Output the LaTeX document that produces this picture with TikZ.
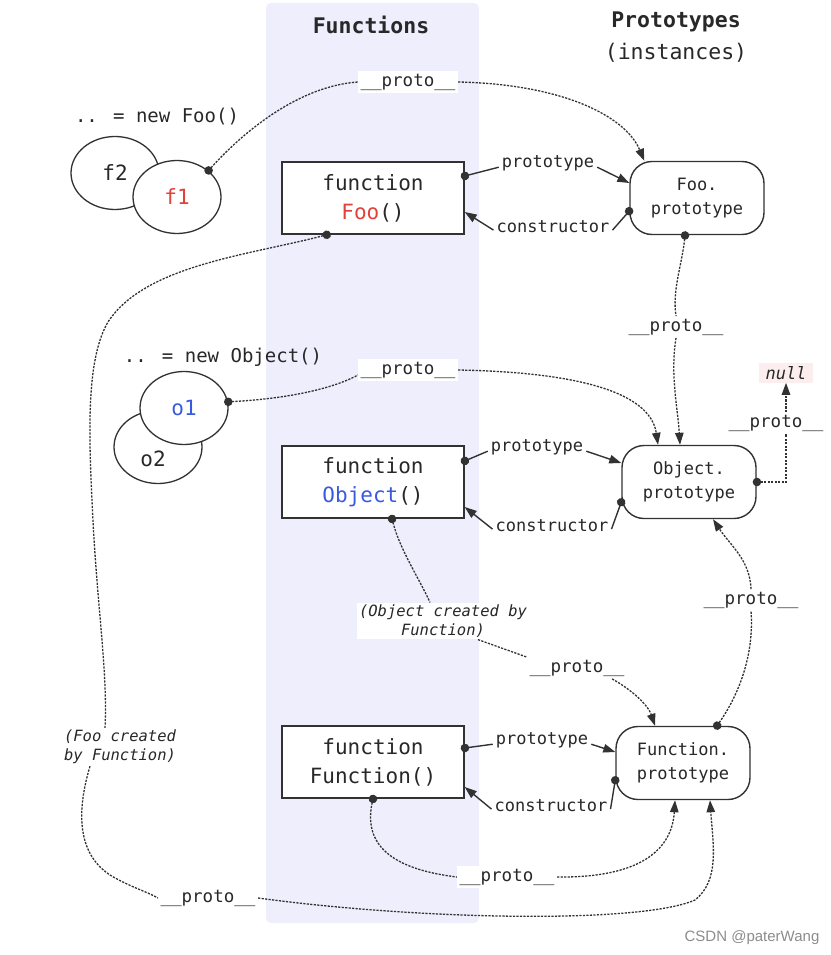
\documentclass[tikz,border=0pt]{standalone}
\usepackage{fontspec}
\setmainfont{DejaVu Sans Mono}
\newfontfamily\wmfont{Liberation Sans}
\usetikzlibrary{arrows.meta,shapes.geometric,calc}
\definecolor{bandc}{RGB}{238,238,252}
\definecolor{lc}{RGB}{50,50,50}
\definecolor{tc}{RGB}{40,40,40}
\definecolor{redc}{RGB}{226,64,58}
\definecolor{bluec}{RGB}{58,90,222}
\definecolor{nullbg}{RGB}{252,238,238}
\newcommand{\fs}[2]{\fontsize{#1}{#2}\selectfont}
\begin{document}
\begin{tikzpicture}[x=1pt,y=-1pt,
 fnbox/.style={draw=lc, line width=1.4pt, fill=white, minimum width=182pt, minimum height=72pt, align=center, font=\fs{21}{29}, text=tc},
 pbox/.style={draw=lc, line width=1.4pt, fill=white, rounded corners=22pt, minimum width=134pt, minimum height=73pt, align=center, font=\fs{17}{23.5}, text=tc},
 inst/.style={draw=lc, line width=1.3pt, fill=white, ellipse, minimum width=88pt, minimum height=73pt, inner sep=0pt, font=\fs{21}{25}, text=tc},
 plabel/.style={fill=white, inner sep=2.5pt, font=\fs{17.5}{21}, text=tc},
 elabel/.style={font=\fs{17}{21}, text=tc, inner sep=3pt},
 note/.style={fill=white, inner sep=2pt, align=center, font=\fs{15.5}{19}\itshape, text=tc},
 hdr/.style={font=\fs{21.5}{26}\bfseries, text=tc},
 pline/.style={draw=lc, line width=1.3pt, dash pattern=on 2.2pt off 1.3pt},
 sline/.style={draw=lc, line width=1.4pt},
 dotS/.style={{Circle[length=8.5pt]}-, shorten <=-4pt},
 arrE/.style={-{Triangle[length=12pt,width=8.5pt]}},
]
\useasboundingbox (0,0) rectangle (830,955);
\fill[bandc, rounded corners=5pt] (266,3) rectangle (479,923);

% headers
\node[hdr] (hfun) at (371,25) {Functions};
\node[hdr] (hproto) at (676,22) {Prototypes};
\node[font=\fs{21.5}{26}, text=tc] (hinst) at (676,53) {(instances)};

% instances
\node[font=\fs{19}{23}, text=tc] (newfoo) at (157,117) {.. = new Foo()};
\node[inst] (f2) at (115,173) {f2};
\node[inst, text=redc] (f1) at (177,197) {f1};
\node[font=\fs{19}{23}, text=tc] (newobj) at (223,357) {.. = new Object()};
\node[inst] (o2) at (158,447) {};
\node[text=tc, font=\fs{21}{25}] (o2t) at (153,459) {o2};
\node[inst, text=bluec] (o1) at (184,408) {o1};

% functions
\node[fnbox] (foo) at (373,198) {function\\\textcolor{redc}{Foo}()};
\node[fnbox] (obj) at (373,482) {function\\\textcolor{bluec}{Object}()};
\node[fnbox] (fun) at (373,762) {function\\Function()};

% prototypes
\node[pbox] (fooP) at (697,198) {Foo.\\prototype};
\node[pbox] (objP) at (689,482) {Object.\\prototype};
\node[pbox] (funP) at (683,763) {Function.\\prototype};

% prototype / constructor labels
\node[elabel] (lpF) at (548,163) {prototype};
\node[elabel] (lcF) at (553,227) {constructor};
\node[elabel] (lpO) at (537,447) {prototype};
\node[elabel] (lcO) at (552,526) {constructor};
\node[elabel] (lpU) at (542,740) {prototype};
\node[elabel] (lcU) at (551,806) {constructor};

% __proto__ labels
\node[plabel] (pTop) at (408,82) {\_\_proto\_\_};
\node[plabel] (pFooP) at (676,327) {\_\_proto\_\_};
\node[plabel] (pO1) at (408,370) {\_\_proto\_\_};
\node[plabel] (pNull) at (776,423) {\_\_proto\_\_};
\node[plabel] (pObjFun) at (577,668) {\_\_proto\_\_};
\node[plabel] (pFunObjP) at (751,600) {\_\_proto\_\_};
\node[plabel] (pFun) at (507,877) {\_\_proto\_\_};
\node[plabel] (pFoo) at (208,898) {\_\_proto\_\_};

% notes
\node[note] (aFoo) at (120,747) {(Foo created\\by Function)};
\node[note] (aObj) at (443,621) {(Object created by\\Function)};
\node[fill=nullbg, inner xsep=7pt, inner ysep=3pt, font=\fs{17}{21}\itshape, text=tc] (null) at (786,373) {null};

% watermark
\node[font=\wmfont\fs{15}{18}, text=black!45] (wm) at (752,938) {CSDN @paterWang};

% prototype / constructor connectors
\draw[sline,dotS] ([yshift=22pt]foo.east) -- (lpF.base west);
\draw[sline,arrE] (lpF.base east) -- ([yshift=15pt]fooP.west);
\draw[sline,dotS] ([yshift=-13pt]fooP.west) -- (lcF.mid east);
\draw[sline,arrE] (lcF.mid west) -- ([yshift=-14pt]foo.east);

\draw[sline,dotS] ([yshift=21pt]obj.east) -- (lpO.base west);
\draw[sline,arrE] (lpO.base east) -- ([yshift=19pt]objP.west);
\draw[sline,dotS] ([yshift=-20pt]objP.west) -- (lcO.mid east);
\draw[sline,arrE] (lcO.mid west) -- ([yshift=-25pt]obj.east);

\draw[sline,dotS] ([yshift=14pt]fun.east) -- (lpU.base west);
\draw[sline,arrE] (lpU.base east) -- ([yshift=11pt]funP.west);
\draw[sline,dotS] ([yshift=-17pt]funP.west) -- (lcU.mid east);
\draw[sline,arrE] (lcU.mid west) -- ([yshift=-25pt]fun.east);

% __proto__ connectors
\draw[pline,dotS] (f1.40) .. controls (245,130) and (300,86) .. (pTop.west);
\draw[pline,arrE] (pTop.east) .. controls (560,84) and (625,115) .. ([xshift=15pt]fooP.north west);

\draw[pline,dotS] ([xshift=-46pt]foo.south) .. controls (250,255) and (145,265) .. (108,322) .. controls (88,356) and (88,420) .. (92,500) .. controls (96,600) and (108,670) .. ([xshift=-15pt]aFoo.north);
\draw[pline] ([xshift=-30pt]aFoo.south) .. controls (80,800) and (72,850) .. (110,875) .. controls (130,887) and (148,892) .. (pFoo.west);
\draw[pline,arrE] (pFoo.east) .. controls (420,920) and (640,924) .. (695,900) .. controls (720,880) and (713,845) .. ([xshift=27pt]funP.south);

\draw[pline,dotS] ([xshift=-12pt]fooP.south) .. controls (682,265) and (672,290) .. (pFooP.north);
\draw[pline,arrE] (pFooP.south) .. controls (670,375) and (678,410) .. ([xshift=-9pt]objP.north);

\draw[pline,dotS] (o1.8) .. controls (300,398) and (340,385) .. ([yshift=-5pt]pO1.west);
\draw[pline,arrE] (pO1.east) .. controls (570,372) and (650,390) .. ([xshift=-31pt]objP.north);

\draw[pline,dotS] (objP.east) -| ([xshift=10pt]pNull.south);
\draw[pline,arrE] ([xshift=10pt]pNull.north) -- (null.south);

\draw[pline,dotS] ([xshift=19pt]obj.south) .. controls (400,550) and (420,580) .. ([xshift=-13pt]aObj.north);
\draw[pline] ([xshift=35pt]aObj.south) -- (pObjFun.north west);
\draw[pline,arrE] ([xshift=-15pt]pObjFun.south east) .. controls (632,690) and (648,705) .. ([xshift=-28pt]funP.north);

\draw[pline,dotS] ([xshift=34pt]funP.north) .. controls (742,690) and (754,650) .. (pFunObjP.south);
\draw[pline,arrE] (pFunObjP.north) .. controls (750,560) and (730,545) .. ([xshift=24pt]objP.south);

\draw[pline,dotS] (fun.south) .. controls (362,850) and (400,870) .. (pFun.west);
\draw[pline,arrE] (pFun.east) .. controls (640,878) and (672,850) .. ([xshift=-8pt]funP.south);
\end{tikzpicture}
\end{document}
